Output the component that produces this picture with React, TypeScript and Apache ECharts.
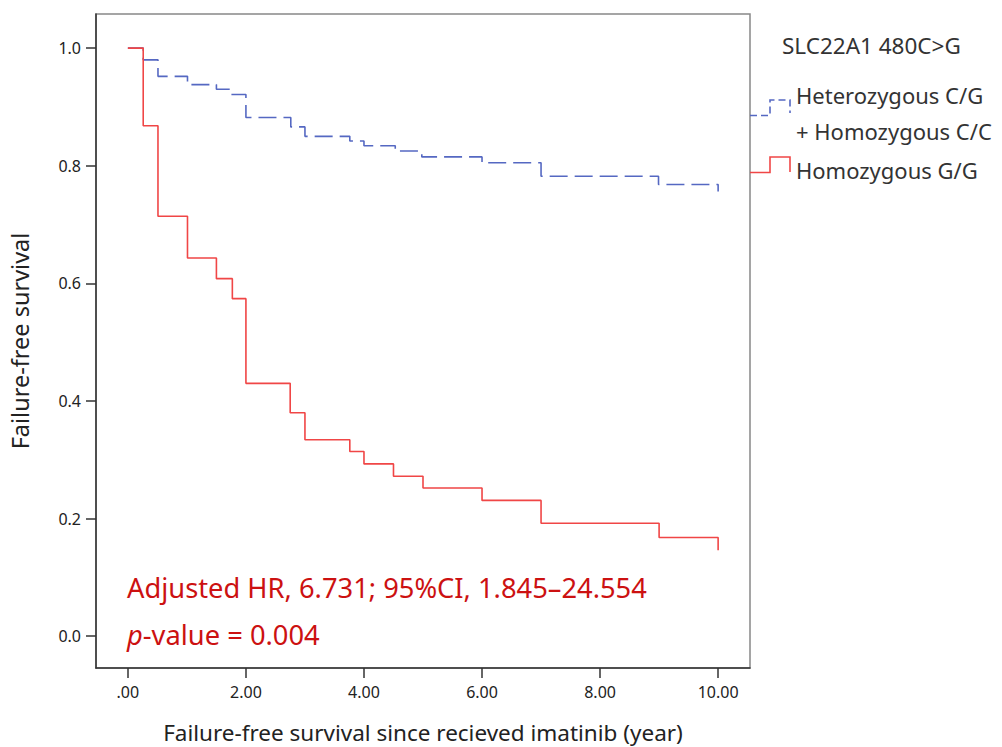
import React, { useEffect, useRef } from "react";
import * as echarts from "echarts";

// Kaplan-Meier step data: [time (years), survival probability from that time onward]
const blueTimes = [0, 0.26, 0.51, 1.01, 1.5, 1.75, 2.0, 2.76, 3.0, 3.76, 4.0, 4.53, 4.98, 6.0, 7.0, 8.99, 10.0];
const blueSurv = [1.0, 0.98, 0.952, 0.938, 0.93, 0.921, 0.882, 0.866, 0.85, 0.842, 0.834, 0.825, 0.815, 0.805, 0.782, 0.768, 0.756];
const redTimes = [0, 0.26, 0.51, 1.01, 1.5, 1.77, 2.0, 2.75, 3.0, 3.76, 4.0, 4.5, 5.0, 6.0, 7.0, 9.0, 10.0];
const redSurv = [1.0, 0.868, 0.714, 0.643, 0.608, 0.574, 0.43, 0.38, 0.334, 0.314, 0.293, 0.272, 0.252, 0.231, 0.192, 0.168, 0.146];

const xTicks = [0, 2, 4, 6, 8, 10];
const yTicks = [0, 0.2, 0.4, 0.6, 0.8, 1.0];

const legendTitle = "SLC22A1 480C>G";
const legendBlue = ["Heterozygous C/G", "+ Homozygous C/C"];
const legendRed = "Homozygous G/G";
const annotation1 = "Adjusted HR, 6.731; 95%CI, 1.845–24.554";
const annotation2 = "{i|p}-value = 0.004";

const BLUE = "#5568c2";
const RED = "#f04646";
const FONT = "'Noto Sans', 'Open Sans', sans-serif";

export default function App() {
  const ref = useRef<HTMLDivElement>(null);
  useEffect(() => {
    if (!ref.current) return;
    const chart = echarts.init(ref.current, null, { renderer: "svg" });
    const blueData = blueTimes.map((t, i) => [t, blueSurv[i]]);
    const redData = redTimes.map((t, i) => [t, redSurv[i]]);
    chart.setOption({
      animation: false,
      backgroundColor: "#ffffff",
      textStyle: { fontFamily: FONT },
      grid: {
        left: 96,
        top: 14,
        right: 252,
        bottom: 79,
        show: true,
        containLabel: false,
        outerBoundsMode: "none",
        borderColor: "#888",
        borderWidth: 1.5,
        backgroundColor: "transparent",
      },
      xAxis: {
        type: "value",
        min: -0.54,
        max: 10.54,
        splitLine: { show: false },
        axisLine: { show: true, onZero: false, lineStyle: { color: "#333", width: 1.5 } },
        axisTick: { show: true, length: 10, customValues: xTicks, lineStyle: { color: "#333", width: 1.5 } },
        axisLabel: {
          customValues: xTicks,
          margin: 16,
          fontSize: 16,
          color: "#222",
          fontFamily: FONT,
          formatter: (v: number) => (v === 0 ? ".00" : v.toFixed(2)),
        },
        name: "Failure-free survival since recieved imatinib (year)",
        nameLocation: "middle",
        nameGap: 52,
        nameTextStyle: { fontSize: 22.5, color: "#222", fontFamily: FONT, lineHeight: 24 },
      },
      yAxis: {
        type: "value",
        min: -0.054,
        max: 1.058,
        splitLine: { show: false },
        axisLine: { show: true, onZero: false, lineStyle: { color: "#333", width: 1.5 } },
        axisTick: { show: true, length: 10, customValues: yTicks, lineStyle: { color: "#333", width: 1.5 } },
        axisLabel: {
          customValues: yTicks,
          margin: 15,
          fontSize: 16,
          color: "#222",
          fontFamily: FONT,
          formatter: (v: number) => v.toFixed(1),
        },
        name: "Failure-free survival",
        nameLocation: "middle",
        nameGap: 64,
        nameTextStyle: { fontSize: 23.5, color: "#222", fontFamily: FONT },
      },
      series: [
        {
          type: "line",
          step: "end",
          data: blueData,
          showSymbol: false,
          lineStyle: { color: BLUE, width: 1.6, type: [18, 7] },
          z: 2,
        },
        {
          type: "line",
          step: "end",
          data: redData,
          showSymbol: false,
          lineStyle: { color: RED, width: 1.6 },
          z: 3,
        },
      ],
      graphic: [
        {
          type: "text",
          x: 782,
          y: 45,
          style: { text: legendTitle, fontSize: 22.5, fill: "#333", fontFamily: FONT, verticalAlign: "middle" },
        },
        {
          type: "polyline",
          shape: { points: [[750, 115.5], [770, 115.5], [770, 100], [790, 100], [790, 113]] },
          style: { stroke: BLUE, lineWidth: 1.6, fill: null, lineDash: [7, 4] },
        },
        {
          type: "polyline",
          shape: { points: [[750, 172.5], [770, 172.5], [770, 157], [790, 157], [790, 172]] },
          style: { stroke: RED, lineWidth: 1.6, fill: null },
        },
        {
          type: "text",
          x: 796,
          y: 95,
          style: { text: legendBlue[0], fontSize: 22, fill: "#333", fontFamily: FONT, verticalAlign: "middle" },
        },
        {
          type: "text",
          x: 796,
          y: 131,
          style: { text: legendBlue[1], fontSize: 22, fill: "#333", fontFamily: FONT, verticalAlign: "middle" },
        },
        {
          type: "text",
          x: 796,
          y: 170,
          style: { text: legendRed, fontSize: 22, fill: "#333", fontFamily: FONT, verticalAlign: "middle" },
        },
        {
          type: "text",
          x: 127,
          y: 587,
          style: { text: annotation1, fontSize: 27.3, fill: "#cc1111", fontFamily: FONT, verticalAlign: "middle" },
        },
        {
          type: "text",
          x: 127,
          y: 634,
          style: {
            text: annotation2,
            fontSize: 27.3,
            fill: "#cc1111",
            fontFamily: FONT,
            verticalAlign: "middle",
            rich: { i: { fontStyle: "italic", fontSize: 27.3, fill: "#cc1111", fontFamily: FONT } },
          },
        },
      ],
    });
    return () => chart.dispose();
  }, []);
  return <div ref={ref} style={{ position: "fixed", left: 0, top: 0, width: 1002, height: 747 }} />;
}
